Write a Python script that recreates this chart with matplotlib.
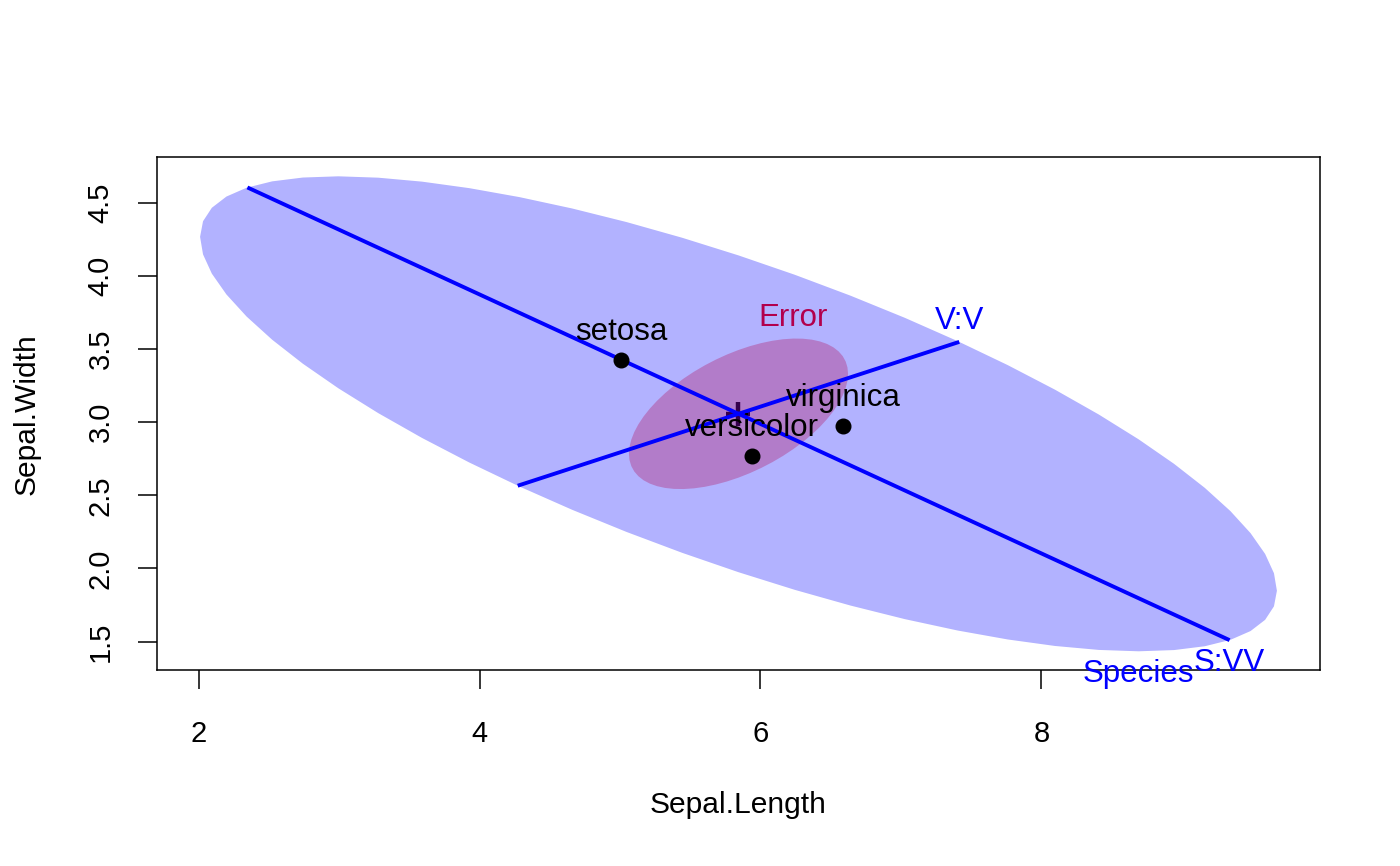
import numpy as np
import matplotlib.pyplot as plt

plt.rcParams['font.family'] = ['Liberation Sans', 'DejaVu Sans']

# group means of the iris data (Sepal.Length, Sepal.Width)
species = ['setosa', 'versicolor', 'virginica']
sepal_length_means = [5.006, 5.936, 6.588]
sepal_width_means = [3.428, 2.770, 2.974]
n_per_group = [50, 50, 50]

# within-group (error) SSCP matrix
E_sscp = [[38.9562, 13.6300],
          [13.6300, 16.9620]]
dfe = 147
level = 0.68
lambda_crit = 0.0672   # Roy critical value used for "evidence" scaling of H

contrast_names = ['S:VV', 'V:V']
contrasts = [[2, -1, -1], [0, 1, -1]]

x_ticks = [2, 4, 6, 8]
y_ticks = [1.5, 2.0, 2.5, 3.0, 3.5, 4.0, 4.5]


def ellipse_points(center, shape, radius, segments=60):
    t = np.linspace(0, 2 * np.pi, segments + 1)
    circle = np.column_stack([np.cos(t), np.sin(t)])
    Q = np.linalg.cholesky(shape).T
    return center + radius * circle @ Q


means = np.column_stack([sepal_length_means, sepal_width_means])
n = np.array(n_per_group, dtype=float)
grand_mean = (n[:, None] * means).sum(axis=0) / n.sum()

# hypothesis SSCP for Species
dev = means - grand_mean
H_sscp = sum(n[i] * np.outer(dev[i], dev[i]) for i in range(len(n)))

# radius for 2-d ellipse: sqrt(2 * qf(level, 2, dfe))
fq = dfe / 2 * ((1 - level) ** (-2 / dfe) - 1)
radius = np.sqrt(2 * fq)

E_pts = ellipse_points(grand_mean, np.array(E_sscp) / dfe, radius)
H_pts = ellipse_points(grand_mean, H_sscp / (lambda_crit * dfe), radius)

# 1-df contrasts are drawn as lines
contrast_ends = []
for c in contrasts:
    c = np.array(c, dtype=float)
    d = c @ means
    s = np.sum(c ** 2 / n)
    half = radius * d / np.sqrt(s) / np.sqrt(lambda_crit * dfe)
    contrast_ends.append(np.array([grand_mean - half, grand_mean + half]))

fig = plt.figure(figsize=(14, 8.66), dpi=100)
ax = fig.add_axes([0.11214, 0.22598, 0.83071, 0.59238])

# centre mark, then error ellipse, then hypothesis ellipse on top
ax.plot(grand_mean[0], grand_mean[1], marker='+', color='black', ms=17, mew=3.2, zorder=1)

ax.fill(E_pts[:, 0], E_pts[:, 1], color='red', alpha=0.3, lw=0, zorder=2)
top = E_pts[np.argmax(E_pts[:, 1])]
ax.annotate('Error', xy=top, xytext=(0, 9), textcoords='offset points',
            ha='center', va='baseline', color='red', fontsize=22.5, zorder=3)

ax.fill(H_pts[:, 0], H_pts[:, 1], color='blue', alpha=0.3, lw=0, zorder=4)
bottom = H_pts[np.argmin(H_pts[:, 1])]
ax.annotate('Species', xy=bottom, xytext=(0, -22), textcoords='offset points',
            ha='center', va='baseline', color='blue', fontsize=22.5, zorder=6,
            annotation_clip=False)

for name, ends in zip(contrast_names, contrast_ends):
    ax.plot(ends[:, 0], ends[:, 1], color='blue', lw=2.8, solid_capstyle='butt', zorder=5)
    end = ends[np.argmax(ends[:, 0])]
    off = 9 if end[1] > grand_mean[1] else -22
    ax.annotate(name, xy=end, xytext=(0, off), textcoords='offset points',
                ha='center', va='baseline', color='blue', fontsize=22.5, zorder=6,
                annotation_clip=False)

# group means
ax.plot(sepal_length_means, sepal_width_means, 'o', color='black', ms=10.5, zorder=7)
for name, xv, yv in zip(species, sepal_length_means, sepal_width_means):
    ax.annotate(name, xy=(xv, yv), xytext=(0, 14.4), textcoords='offset points',
                ha='center', va='baseline', color='black', fontsize=22.5, zorder=8)

# axis limits like R: data range + 4 %
all_pts = np.vstack([H_pts, E_pts] + contrast_ends)
xmin, xmax = all_pts[:, 0].min(), all_pts[:, 0].max()
ymin, ymax = all_pts[:, 1].min(), all_pts[:, 1].max()
ax.set_xlim(xmin - 0.04 * (xmax - xmin), xmax + 0.04 * (xmax - xmin))
ax.set_ylim(ymin - 0.04 * (ymax - ymin), ymax + 0.04 * (ymax - ymin))

ax.set_xticks(x_ticks)
ax.set_xticklabels([str(v) for v in x_ticks])
ax.set_yticks(y_ticks)
ax.set_yticklabels(['%.1f' % v for v in y_ticks])
ax.tick_params(axis='both', direction='out', length=14, width=1.1, labelsize=21)
ax.tick_params(axis='x', pad=22)
ax.tick_params(axis='y', pad=16.5, labelrotation=90)
for lab in ax.get_yticklabels():
    lab.set_va('center')

for sp in ax.spines.values():
    sp.set_linewidth(1.1)
    sp.set_color('black')

ax.set_xlabel('Sepal.Length', fontsize=21.6)
ax.set_ylabel('Sepal.Width', fontsize=21.6)
ax.xaxis.set_label_coords(0.5, -0.262)
ax.xaxis.label.set_va('center')
ax.yaxis.set_label_coords(-0.112, 0.5)
ax.yaxis.label.set_va('center')

fig.savefig('out.png', dpi=100)
